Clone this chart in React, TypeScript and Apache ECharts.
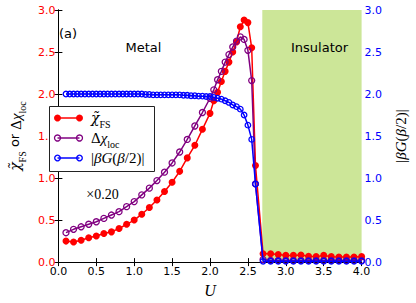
import React, { useEffect, useRef } from 'react';
import * as echarts from 'echarts';

// U grid and values for chi_FS (red, filled), scaled x0.20
const uChi = [0.1, 0.2, 0.3, 0.4, 0.5, 0.6, 0.7, 0.8, 0.9, 1.0, 1.1, 1.2, 1.3, 1.4, 1.5, 1.6, 1.7, 1.8, 1.9, 2.0,
  2.05, 2.1, 2.15, 2.2, 2.25, 2.3, 2.35, 2.4, 2.45, 2.5, 2.55, 2.6,
  2.7, 2.8, 2.9, 3.0, 3.1, 3.2, 3.3, 3.4, 3.5, 3.6, 3.7, 3.8, 3.9, 4.0];
const chiFS = [0.25, 0.24, 0.26, 0.29, 0.31, 0.34, 0.36, 0.40, 0.45, 0.50, 0.57, 0.65, 0.74, 0.84, 0.95, 1.08, 1.24, 1.39, 1.58, 1.77,
  1.92, 2.02, 2.15, 2.27, 2.38, 2.50, 2.62, 2.80, 2.88, 2.85, 2.55, 1.15,
  0.10, 0.10, 0.09, 0.08, 0.08, 0.085, 0.07, 0.065, 0.08, 0.065, 0.06, 0.06, 0.06, 0.065];

// U grid and values for Delta chi_loc (purple, hollow)
const uDelta = [0.1, 0.2, 0.3, 0.4, 0.5, 0.6, 0.7, 0.8, 0.9, 1.0, 1.1, 1.2, 1.3, 1.4, 1.5, 1.6, 1.7, 1.8, 1.9, 2.0,
  2.05, 2.1, 2.15, 2.2, 2.25, 2.3, 2.35, 2.4, 2.45, 2.5, 2.55, 2.6,
  2.7, 2.8, 2.9, 3.0, 3.1, 3.2, 3.3, 3.4, 3.5, 3.6, 3.7, 3.8, 3.9, 4.0];
const deltaChi = [0.35, 0.39, 0.42, 0.45, 0.48, 0.52, 0.56, 0.60, 0.66, 0.72, 0.80, 0.88, 0.97, 1.07, 1.18, 1.31, 1.46, 1.62, 1.78, 1.95,
  2.05, 2.17, 2.27, 2.38, 2.47, 2.56, 2.63, 2.68, 2.65, 2.52, 2.16, 0.93,
  0.03, 0.02, 0.02, 0.02, 0.02, 0.02, 0.02, 0.02, 0.02, 0.02, 0.02, 0.02, 0.02, 0.02];

// U grid and values for |beta G(beta/2)| (blue, hollow, right axis)
const uG = [0.1, 0.15, 0.2, 0.25, 0.3, 0.35, 0.4, 0.45, 0.5, 0.55, 0.6, 0.65, 0.7, 0.75, 0.8, 0.85, 0.9, 0.95, 1.0,
  1.05, 1.1, 1.15, 1.2, 1.25, 1.3, 1.35, 1.4, 1.45, 1.5,
  1.55, 1.6, 1.65, 1.7, 1.75, 1.8, 1.85, 1.9, 1.95, 2.0,
  2.05, 2.1, 2.15, 2.2, 2.25, 2.3, 2.35, 2.4, 2.45, 2.5, 2.55, 2.6,
  2.7, 2.8, 2.9, 3.0, 3.1, 3.2, 3.3, 3.4, 3.5, 3.6, 3.7, 3.8, 3.9, 4.0];
const betaG = [2.0, 2.0, 2.0, 2.0, 2.0, 2.0, 2.0, 2.0, 2.0, 2.0, 2.0, 2.0, 2.0, 2.0, 2.0, 2.0, 2.0, 2.0, 2.0,
  2.0, 2.0, 1.995, 1.995, 1.99, 1.99, 1.99, 1.99, 1.99, 1.99,
  1.99, 1.99, 1.985, 1.985, 1.98, 1.98, 1.975, 1.975, 1.97, 1.97,
  1.96, 1.95, 1.94, 1.92, 1.90, 1.87, 1.85, 1.82, 1.75, 1.63, 1.46, 0.93,
  0.01, 0.01, 0.01, 0.01, 0.01, 0.01, 0.01, 0.01, 0.01, 0.01, 0.01, 0.01, 0.01, 0.01];

const insulatorRange = [2.69, 4.0];
const xTicks = { min: 0, max: 4, interval: 0.5 };
const yTicks = { min: 0, max: 3, interval: 0.5 };

const SERIF = 'Liberation Serif';
const SANS = 'DejaVu Sans';

const mathRich = {
  c: { fontFamily: 'DejaVu Serif', fontStyle: 'italic', fontSize: 14, lineHeight: 15, verticalAlign: 'top', color: '#000' },
  m: { fontFamily: SERIF, fontStyle: 'italic', fontSize: 15, lineHeight: 15, verticalAlign: 'top', color: '#000' },
  d: { fontFamily: SERIF, fontSize: 15, lineHeight: 15, verticalAlign: 'top', color: '#000' },
  r: { fontFamily: SERIF, fontSize: 15, lineHeight: 15, verticalAlign: 'top', color: '#000' },
  s: { fontFamily: SERIF, fontSize: 10, lineHeight: 10, padding: [9, 0, 0, 0], verticalAlign: 'top', color: '#000' },
  t: { fontFamily: SANS, fontSize: 13, lineHeight: 15, verticalAlign: 'top', color: '#000' },
};

function pairs(xs: number[], ys: number[]) {
  return xs.map((x, i) => [x, ys[i]]);
}

export default function App() {
  const ref = useRef<HTMLDivElement>(null);
  useEffect(() => {
    const chart = echarts.init(ref.current!, null, { renderer: 'svg' });
    const axisLine = { show: true, lineStyle: { color: '#000', width: 1 } };
    const tick = { show: true, inside: true, length: 4, lineStyle: { color: '#000', width: 1 } };
    const option: any = {
      animation: false,
      grid: { left: 43, right: 43.3, top: 10, bottom: 37 },
      xAxis: [
        {
          type: 'value', ...xTicks, position: 'bottom',
          axisLine, axisTick: tick, splitLine: { show: false },
          axisLabel: { color: '#000', fontFamily: SANS, fontSize: 11, margin: 4, formatter: (v: number) => v.toFixed(1) },
          name: 'U', nameLocation: 'middle', nameGap: 16,
          nameTextStyle: { fontFamily: SERIF, fontStyle: 'italic', fontSize: 16, color: '#000' },
        },
        {
          type: 'value', ...xTicks, position: 'top',
          axisLine, axisTick: tick, splitLine: { show: false }, axisLabel: { show: false },
        },
      ],
      yAxis: [
        {
          type: 'value', ...yTicks, position: 'left',
          axisLine, axisTick: tick, splitLine: { show: false },
          axisLabel: { color: '#ff0000', fontFamily: SANS, fontSize: 11, margin: 3, formatter: (v: number) => v.toFixed(1) },
          name: '{c|χ\u0303}{s|FS}{t| or }{d|Δ}{m|χ}{s|loc}', nameLocation: 'middle', nameGap: 24, nameRotate: 90,
          nameTextStyle: { rich: mathRich },
        },
        {
          type: 'value', ...yTicks, position: 'right',
          axisLine, axisTick: tick, splitLine: { show: false },
          axisLabel: { color: '#0000ff', fontFamily: SANS, fontSize: 11, margin: 3, formatter: (v: number) => v.toFixed(1) },
          name: '{r||}{m|βG}{r|(}{m|β}{r|/2)|}', nameLocation: 'middle', nameGap: 30, nameRotate: 90,
          nameTextStyle: { rich: mathRich },
        },
      ],
      series: [
        {
          type: 'line', name: 'insulator', data: [], z: 1, silent: true,
          markArea: {
            silent: true,
            itemStyle: { color: '#cce698' },
            data: [[{ xAxis: insulatorRange[0] }, { xAxis: insulatorRange[1] }]],
          },
        },
        {
          type: 'line', name: 'chiFS', data: pairs(uChi, chiFS), z: 3, silent: true,
          symbol: 'circle', symbolSize: 7, showAllSymbol: true,
          itemStyle: { color: '#ff0000' }, lineStyle: { color: '#ff0000', width: 1.5 },
        },
        {
          type: 'line', name: 'deltaChi', data: pairs(uDelta, deltaChi), z: 4, silent: true,
          symbol: 'circle', symbolSize: 6, showAllSymbol: true,
          itemStyle: { color: 'rgba(0,0,0,0)', borderColor: '#800080', borderWidth: 1.3 },
          lineStyle: { color: '#800080', width: 1.5 },
        },
        {
          type: 'line', name: 'betaG', yAxisIndex: 1, data: pairs(uG, betaG), z: 5, silent: true,
          symbol: 'circle', symbolSize: 5.5, showAllSymbol: true,
          itemStyle: { color: 'rgba(0,0,0,0)', borderColor: '#0000ff', borderWidth: 1.3 },
          lineStyle: { color: '#0000ff', width: 1.5 },
        },
      ],
      graphic: [
        { type: 'text', z: 100, style: { text: '(a)', x: 59, y: 33, fontFamily: SANS, fontSize: 13, fill: '#000', verticalAlign: 'middle' } },
        { type: 'text', z: 100, style: { text: 'Metal', x: 143.5, y: 47.5, fontFamily: SANS, fontSize: 13, fill: '#000', align: 'center', verticalAlign: 'middle' } },
        { type: 'text', z: 100, style: { text: 'Insulator', x: 319.5, y: 47.5, fontFamily: SANS, fontSize: 13, fill: '#000', align: 'center', verticalAlign: 'middle' } },
        { type: 'text', z: 100, style: { text: '×0.20', x: 102.5, y: 194, fontFamily: SERIF, fontSize: 14, fill: '#000', align: 'center', verticalAlign: 'middle' } },
        {
          type: 'group', z: 100,
          children: [
            { type: 'rect', z: 100, shape: { x: 49.5, y: 106.5, width: 105, height: 65 }, style: { fill: '#fff', stroke: '#222', lineWidth: 1 } },
            { type: 'line', z: 101, shape: { x1: 57.5, y1: 118, x2: 79.5, y2: 118 }, style: { stroke: '#ff0000', lineWidth: 1.5 } },
            { type: 'circle', z: 102, shape: { cx: 57.5, cy: 118, r: 3.5 }, style: { fill: '#ff0000' } },
            { type: 'circle', z: 102, shape: { cx: 79.5, cy: 118, r: 3.5 }, style: { fill: '#ff0000' } },
            { type: 'line', z: 101, shape: { x1: 57.5, y1: 138, x2: 79.5, y2: 138 }, style: { stroke: '#800080', lineWidth: 1.5 } },
            { type: 'circle', z: 102, shape: { cx: 57.5, cy: 138, r: 3 }, style: { fill: 'none', stroke: '#800080', lineWidth: 1.3 } },
            { type: 'circle', z: 102, shape: { cx: 79.5, cy: 138, r: 3 }, style: { fill: 'none', stroke: '#800080', lineWidth: 1.3 } },
            { type: 'line', z: 101, shape: { x1: 57.5, y1: 158, x2: 79.5, y2: 158 }, style: { stroke: '#0000ff', lineWidth: 1.5 } },
            { type: 'circle', z: 102, shape: { cx: 57.5, cy: 158, r: 2.8 }, style: { fill: 'none', stroke: '#0000ff', lineWidth: 1.3 } },
            { type: 'circle', z: 102, shape: { cx: 79.5, cy: 158, r: 2.8 }, style: { fill: 'none', stroke: '#0000ff', lineWidth: 1.3 } },
            { type: 'text', z: 102, style: { text: '{c|χ\u0303}{s|FS}', x: 91, y: 118, verticalAlign: 'middle', rich: mathRich } },
            { type: 'text', z: 102, style: { text: '{d|Δ}{m|χ}{s|loc}', x: 91, y: 138, verticalAlign: 'middle', rich: mathRich } },
            { type: 'text', z: 102, style: { text: '{r||}{m|βG}{r|(}{m|β}{r|/2)|}', x: 91, y: 158, verticalAlign: 'middle', rich: mathRich } },
          ],
        },
      ],
    };
    chart.setOption(option);
    return () => chart.dispose();
  }, []);
  return <div ref={ref} style={{ position: 'fixed', left: 0, top: 0, width: 416, height: 303, background: '#fff' }} />;
}
